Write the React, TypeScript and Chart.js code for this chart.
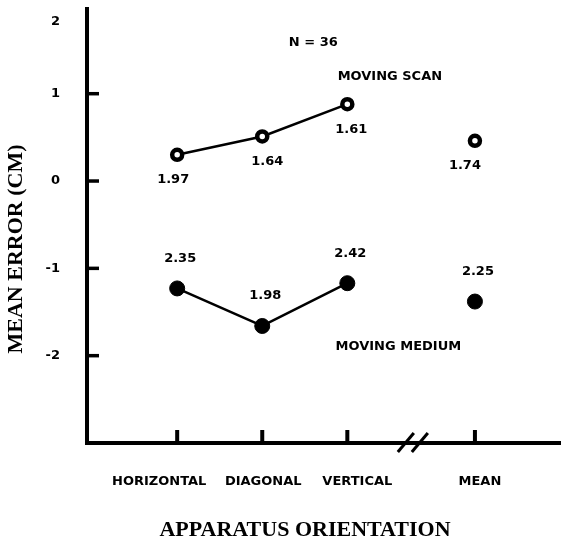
import React, { useEffect, useRef } from "react";
import { Chart, registerables } from "chart.js";

Chart.register(...registerables);

// ---- data ----
const categories = ["HORIZONTAL", "DIAGONAL", "VERTICAL", "MEAN"];
const categoryX = [1, 2, 3, 4.5];
const movingScan = [0.3, 0.51, 0.88, 0.46];
const movingMedium = [-1.23, -1.66, -1.17, -1.38];
const scanLabels = ["1.97", "1.64", "1.61", "1.74"];
const mediumLabels = ["2.35", "1.98", "2.42", "2.25"];
const yTickValues = [-2, -1, 0, 1, 1.82];
const yTickLabels = ["-2", "-1", "0", "1", "2"];
const breakAt = 3.77;

const SANS = '"DejaVu Sans", sans-serif';
const SERIF = '"Liberation Serif", serif';

const decor = {
  id: "decor",
  afterDraw(chart: any) {
    const { ctx, chartArea, scales } = chart;
    const xs = scales.x;
    const ys = scales.y;
    ctx.save();
    ctx.fillStyle = "#000";
    ctx.strokeStyle = "#000";
    ctx.lineCap = "butt";

    // inward y tick marks
    ctx.lineWidth = 3.5;
    yTickValues.forEach((v, i) => {
      if (i === yTickValues.length - 1) return;
      const py = ys.getPixelForValue(v);
      ctx.beginPath();
      ctx.moveTo(chartArea.left, py);
      ctx.lineTo(chartArea.left + 12, py);
      ctx.stroke();
    });

    // inward x tick marks
    ctx.lineWidth = 4;
    categoryX.forEach((v) => {
      const px = xs.getPixelForValue(v);
      ctx.beginPath();
      ctx.moveTo(px, chartArea.bottom);
      ctx.lineTo(px, chartArea.bottom - 13);
      ctx.stroke();
    });

    // axis break marks
    const bx = xs.getPixelForValue(breakAt);
    ctx.lineWidth = 3;
    [-7, 7].forEach((d) => {
      ctx.beginPath();
      ctx.moveTo(bx + d - 8, chartArea.bottom + 9);
      ctx.lineTo(bx + d + 8, chartArea.bottom - 10);
      ctx.stroke();
    });

    // x category labels
    const labelShift = [-18, 1, 10, 5];
    ctx.font = `bold 13px ${SANS}`;
    ctx.textAlign = "center";
    ctx.textBaseline = "middle";
    categories.forEach((c, i) => {
      ctx.fillText(c, xs.getPixelForValue(categoryX[i]) + labelShift[i], 482);
    });

    // value labels
    const scanShift = [-4, 5, 4, -10];
    categoryX.forEach((v, i) => {
      const px = xs.getPixelForValue(v);
      ctx.fillText(scanLabels[i], px + scanShift[i], ys.getPixelForValue(movingScan[i]) + 25);
      ctx.fillText(mediumLabels[i], px + 3, ys.getPixelForValue(movingMedium[i]) - 30);
    });

    // annotations
    ctx.fillText("N = 36", xs.getPixelForValue(2.6), ys.getPixelForValue(1.58));
    ctx.fillText("MOVING SCAN", xs.getPixelForValue(3.5), ys.getPixelForValue(1.19));
    ctx.fillText("MOVING MEDIUM", xs.getPixelForValue(3.6), ys.getPixelForValue(-1.9));

    // axis titles
    ctx.font = `bold 22px ${SERIF}`;
    ctx.fillText("APPARATUS ORIENTATION", 305, 530);
    ctx.save();
    ctx.translate(16, 249);
    ctx.rotate(-Math.PI / 2);
    ctx.fillText("MEAN ERROR (CM)", 0, 0);
    ctx.restore();

    ctx.restore();
  },
};

export default function App() {
  const ref = useRef<HTMLCanvasElement>(null);

  useEffect(() => {
    if (!ref.current) return;
    const hideLast = (c: any) => (c.p1DataIndex === categoryX.length - 1 ? "rgba(0,0,0,0)" : "#000");
    const chart = new Chart(ref.current, {
      type: "line",
      data: {
        datasets: [
          {
            label: "MOVING SCAN",
            data: categoryX.map((x, i) => ({ x, y: movingScan[i] })),
            borderColor: "#000",
            borderWidth: 2.5,
            pointRadius: 5,
            pointBorderWidth: 4.5,
            pointBackgroundColor: "#fff",
            pointBorderColor: "#000",
            segment: { borderColor: hideLast },
          },
          {
            label: "MOVING MEDIUM",
            data: categoryX.map((x, i) => ({ x, y: movingMedium[i] })),
            borderColor: "#000",
            borderWidth: 2.5,
            pointRadius: 7.5,
            pointBorderWidth: 1,
            pointBackgroundColor: "#000",
            pointBorderColor: "#000",
            segment: { borderColor: hideLast },
          },
        ],
      },
      options: {
        animation: false,
        responsive: false,
        maintainAspectRatio: false,
        layout: { autoPadding: false, padding: { top: 9, right: 3, left: 0, bottom: 0 } },
        plugins: { legend: { display: false }, tooltip: { enabled: false } },
        scales: {
          x: {
            type: "linear",
            min: -0.06,
            max: 5.5,
            grid: { display: false, drawTicks: false },
            border: { display: true, width: 4, color: "#000" },
            ticks: { display: false },
            afterFit(scale: any) {
              scale.height = 98;
              scale.paddingLeft = 0;
              scale.paddingRight = 0;
            },
          },
          y: {
            type: "linear",
            min: -3,
            max: 1.97,
            grid: { display: false, drawTicks: false },
            border: { display: true, width: 4, color: "#000" },
            afterBuildTicks(scale: any) {
              scale.ticks = yTickValues.map((v) => ({ value: v }));
            },
            ticks: {
              padding: 27,
              color: "#000",
              font: { family: SANS, size: 13, weight: "bold" },
              callback: (_v: any, i: number) => yTickLabels[i],
            },
            afterFit(scale: any) {
              scale.width = 87;
              scale.paddingTop = 0;
              scale.paddingBottom = 0;
            },
          },
        },
      },
      plugins: [decor],
    } as any);
    return () => chart.destroy();
  }, []);

  return (
    <div style={{ position: "fixed", left: 0, top: 0, width: 563, height: 541, background: "#fff" }}>
      <canvas ref={ref} width={563} height={541} style={{ width: 563, height: 541, display: "block" }} />
    </div>
  );
}
